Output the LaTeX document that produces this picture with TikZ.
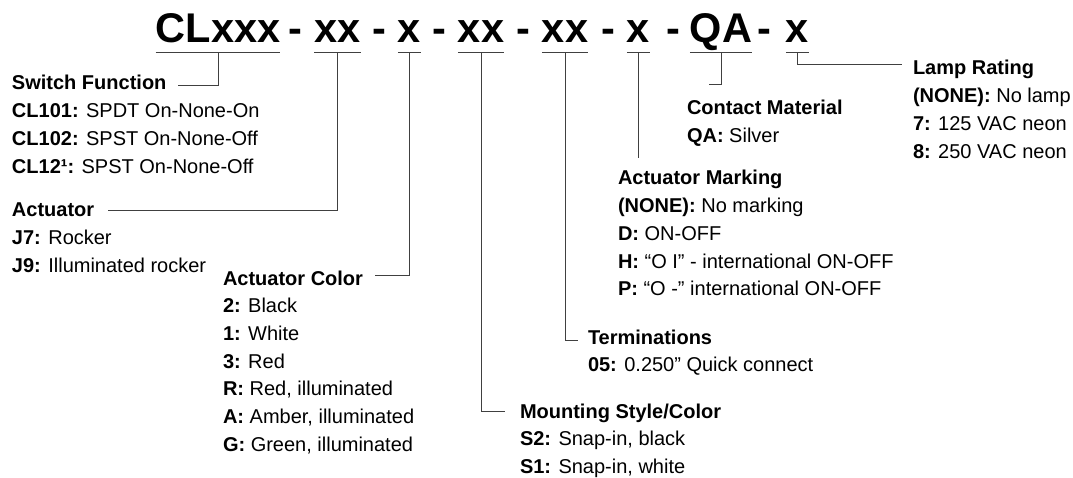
\documentclass[tikz,border=0pt]{standalone}
\usepackage{fontspec}
\setmainfont{Liberation Sans}
\begin{document}
\begin{tikzpicture}[x=1pt,y=-1pt,
  ttl/.style={anchor=base,inner sep=0pt,outer sep=0pt,font=\fontsize{41.5}{41.5}\selectfont\bfseries},
  hd/.style={anchor=base west,inner sep=0pt,outer sep=0pt,font=\fontsize{20}{24}\selectfont\bfseries},
  itm/.style={anchor=base west,inner sep=0pt,outer sep=0pt,font=\fontsize{20}{24}\selectfont},
  ln/.style={line width=0.9pt,draw=black!75}]
\useasboundingbox (0,0) rectangle (1073,478);
% title
\node[ttl] (t1) at (218,43) {CLxxx};
\node[ttl] (d1) at (295.5,43) {-};
\node[ttl] (t2) at (337.5,43) {xx};
\node[ttl] (d2) at (379.5,43) {-};
\node[ttl] (t3) at (409.5,43) {x};
\node[ttl] (d3) at (439,43) {-};
\node[ttl] (t4) at (481,43) {xx};
\node[ttl] (d4) at (523,43) {-};
\node[ttl] (t5) at (565,43) {xx};
\node[ttl] (d5) at (608,43) {-};
\node[ttl] (t6) at (638.5,43) {x};
\node[ttl] (d6) at (673.5,43) {-};
\node[ttl] (t7) at (721,43) {QA};
\node[ttl] (d7) at (764.5,43) {-};
\node[ttl] (t8) at (797.5,43) {x};
\foreach \n in {t1,t2,t3,t4,t5,t6,t7,t8}{
  \draw[ln] ([yshift=-9.5pt]\n.base west) -- ([yshift=-9.5pt]\n.base east);
  \coordinate (\n u) at ([yshift=-9.5pt]\n.base);
}
% Switch Function
\node[hd] (sf) at (12,90) {Switch Function};
\node[itm] (sf1) at (12,117.7) {\textbf{CL101:} SPDT On-None-On};
\node[itm] (sf2) at (12,145.4) {\textbf{CL102:} SPST On-None-Off};
\node[itm] (sf3) at (12,173.1) {\textbf{CL12¹:} SPST On-None-Off};
% Actuator
\node[hd] (act) at (12,217) {Actuator};
\node[itm] (act1) at (12,244.7) {\textbf{J7:} Rocker};
\node[itm] (act2) at (12,272.4) {\textbf{J9:} Illuminated rocker};
% Actuator Color
\node[hd] (acol) at (223,285) {Actuator Color};
\node[itm] (acol1) at (223,312.7) {\textbf{2:} Black};
\node[itm] (acol2) at (223,340.4) {\textbf{1:} White};
\node[itm] (acol3) at (223,368.1) {\textbf{3:} Red};
\node[itm] (acol4) at (223,395.8) {\textbf{R:} Red, illuminated};
\node[itm] (acol5) at (223,423.5) {\textbf{A:} Amber, illuminated};
\node[itm] (acol6) at (223,451.2) {\textbf{G:} Green, illuminated};
% Mounting
\node[hd] (mnt) at (520,418) {Mounting Style/Color};
\node[itm] (mnt1) at (520,445.7) {\textbf{S2:} Snap-in, black};
\node[itm] (mnt2) at (520,473.4) {\textbf{S1:} Snap-in, white};
% Terminations
\node[hd] (term) at (588,344) {Terminations};
\node[itm] (term1) at (588,371.7) {\textbf{05:} 0.250” Quick connect};
% Actuator Marking
\node[hd] (amark) at (618,185) {Actuator Marking};
\node[itm] (amark1) at (618,212.7) {\textbf{(NONE):} No marking};
\node[itm] (amark2) at (618,240.4) {\textbf{D:} ON-OFF};
\node[itm] (amark3) at (618,268.1) {\textbf{H:} “O I” - international ON-OFF};
\node[itm] (amark4) at (618,295.8) {\textbf{P:} “O -” international ON-OFF};
% Contact Material
\node[hd] (cmat) at (687,115) {Contact Material};
\node[itm] (cmat1) at (687,142.7) {\textbf{QA:} Silver};
% Lamp Rating
\node[hd] (lamp) at (913,75) {Lamp Rating};
\node[itm] (lamp1) at (913,102.7) {\textbf{(NONE):} No lamp};
\node[itm] (lamp2) at (913,130.4) {\textbf{7:} 125 VAC neon};
\node[itm] (lamp3) at (913,158.1) {\textbf{8:} 250 VAC neon};
% connectors
\draw[ln] (t1u) |- ([xshift=12pt,yshift=5pt]sf.base east);
\draw[ln] (t2u) |- ([xshift=14pt,yshift=7pt]act.base east);
\draw[ln] (t3u) |- ([xshift=12pt,yshift=10pt]acol.base east);
\draw[ln] (t4u) |- ([xshift=-15pt,yshift=7pt]mnt.base west);
\draw[ln] (t5u) |- ([xshift=-10pt,yshift=4pt]term.base west);
\path (t6u |- amark.base) ++(0,-27) coordinate (t6e);
\draw[ln] (t6u) -- (t6e);
\draw[ln] (t7u) |- ([xshift=22pt,yshift=31pt]cmat.base west);
\draw[ln] (t8u) |- ([xshift=-11pt,yshift=11pt]lamp.base west);
\end{tikzpicture}
\end{document}
